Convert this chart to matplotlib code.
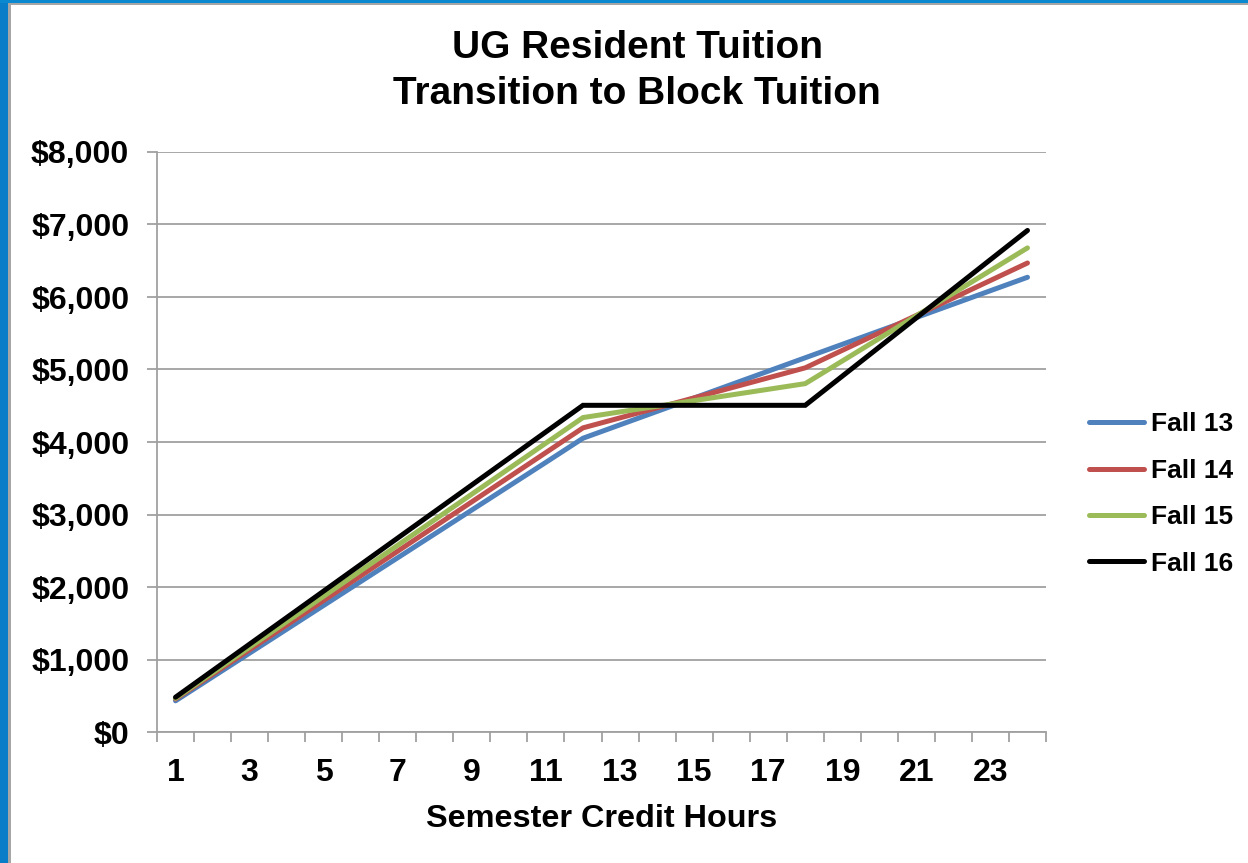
import numpy as np
import matplotlib
matplotlib.use("Agg")
import matplotlib.pyplot as plt
from matplotlib.patches import Rectangle
from matplotlib.ticker import FuncFormatter, FixedLocator

plt.rcParams['font.family'] = ['Liberation Sans', 'DejaVu Sans']
plt.rcParams['font.weight'] = 'bold'

# =============================================================================
# Data
# =============================================================================

credit_hours = list(range(1, 25))
tick_hours   = [1, 3, 5, 7, 9, 11, 13, 15, 17, 19, 21, 23]
series_names = ["Fall 13", "Fall 14", "Fall 15", "Fall 16"]

fall13 = [430, 759, 1088, 1417, 1746, 2075, 2404, 2733, 3062, 3391, 3720, 4052,
          4237, 4422, 4607, 4792, 4977, 5162, 5347, 5532, 5717, 5902, 6087, 6272]
fall14 = [455, 795, 1135, 1475, 1815, 2155, 2495, 2835, 3175, 3515, 3855, 4195,
          4333, 4471, 4609, 4747, 4885, 5023, 5264, 5505, 5746, 5987, 6228, 6469]
fall15 = [465, 817, 1169, 1521, 1873, 2225, 2577, 2929, 3281, 3633, 3985, 4337,
          4415, 4493, 4571, 4649, 4727, 4805, 5117, 5429, 5741, 6053, 6365, 6677]
fall16 = [480, 846, 1212, 1578, 1944, 2310, 2676, 3042, 3408, 3774, 4140, 4506,
          4506, 4506, 4506, 4506, 4506, 4506, 4908, 5310, 5712, 6114, 6516, 6918]

series_values = [fall13, fall14, fall15, fall16]
series_colors = ["#4F81BD", "#C0504D", "#9BBB59", "#000000"]

y_ticks = [0, 1000, 2000, 3000, 4000, 5000, 6000, 7000, 8000]

# =============================================================================
# Figure
# =============================================================================

W, H = 1248, 863
fig = plt.figure(figsize=(W / 100, H / 100), dpi=100)

# slide frame: blue band on left and top, thin grey inner edge
fig.add_artist(Rectangle((0, 0), 8 / W, 1, transform=fig.transFigure,
                         color="#0A7DC8", lw=0, zorder=0))
fig.add_artist(Rectangle((0, 1 - 3 / H), 1, 3 / H, transform=fig.transFigure,
                         color="#0A88D0", lw=0, zorder=0))
fig.add_artist(Rectangle((8 / W, 0), 3 / W, 1 - 3 / H, transform=fig.transFigure,
                         color="#A6A6A6", lw=0, zorder=0))
fig.add_artist(Rectangle((8 / W, 1 - 5 / H), 1 - 8 / W, 2 / H, transform=fig.transFigure,
                         color="#A6A6A6", lw=0, zorder=0))

ax = fig.add_axes([157 / W, 1 - 732 / H, (1046 - 157) / W, (732 - 152) / H])

for name, vals, col in zip(series_names, series_values, series_colors):
    ax.plot(credit_hours, vals, color=col, lw=3.6, label=name,
            solid_capstyle='round', solid_joinstyle='miter')

ax.set_xlim(0.5, 24.5)
ax.set_ylim(0, 8000)

grid_col = "#A0A0A0"
ax.set_yticks(y_ticks)
ax.yaxis.set_major_formatter(FuncFormatter(lambda v, p: f"${v:,.0f}"))
ax.yaxis.grid(True, color=grid_col, lw=1.3)
ax.set_axisbelow(True)

# category axis: ticks between categories, labels on every other category
ax.xaxis.set_major_locator(FixedLocator(tick_hours))
ax.set_xticklabels([str(h) for h in tick_hours])
ax.xaxis.set_minor_locator(FixedLocator(np.arange(0.5, 25, 1.0)))
ax.tick_params(axis='x', which='major', length=0, pad=19, labelsize=23)
ax.tick_params(axis='x', which='minor', length=7, width=1.3, color=grid_col, direction='out')
ax.tick_params(axis='y', length=7, width=1.3, color=grid_col, pad=13, labelsize=23)

for side in ("top", "right"):
    ax.spines[side].set_visible(False)
for side in ("left", "bottom"):
    ax.spines[side].set_color(grid_col)
    ax.spines[side].set_linewidth(1.3)

ax.set_xlabel("Semester Credit Hours", fontsize=23.3, fontweight='bold', labelpad=11)

fig.text(637 / W, 1 - 58 / H, "UG Resident Tuition", ha='center', va='baseline',
         fontsize=28, fontweight='bold')
fig.text(637 / W, 1 - 104 / H, "Transition to Block Tuition", ha='center', va='baseline',
         fontsize=28, fontweight='bold')

ax.legend(loc='center left', bbox_to_anchor=(1089 / W, 1 - 494 / H),
          bbox_transform=fig.transFigure, frameon=False, fontsize=19,
          handlelength=2.1, handletextpad=0.25, labelspacing=0.85,
          borderpad=0, borderaxespad=0)

fig.savefig("out.png", dpi=100)
